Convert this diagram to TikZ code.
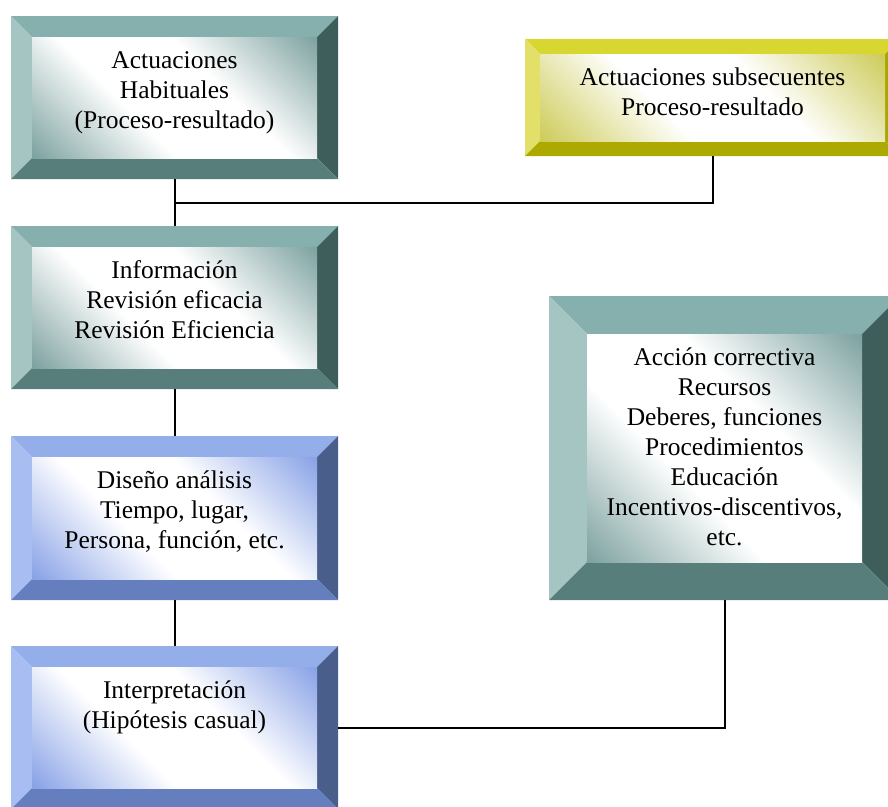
\documentclass[tikz,border=0pt]{standalone}
\usepackage{fontspec}
\setmainfont{Liberation Serif}
\usetikzlibrary{positioning}

\definecolor{tealT}{HTML}{86B0AD}
\definecolor{tealL}{HTML}{A5C5C2}
\definecolor{tealR}{HTML}{3E5E5C}
\definecolor{tealB}{HTML}{587E7C}
\definecolor{tealC}{HTML}{6F9896}
\definecolor{blueT}{HTML}{94AEEA}
\definecolor{blueL}{HTML}{A8BDF2}
\definecolor{blueR}{HTML}{4A5E8C}
\definecolor{blueB}{HTML}{657EBE}
\definecolor{blueC}{HTML}{7B98E4}
\definecolor{yelT}{HTML}{D8D630}
\definecolor{yelL}{HTML}{E2E068}
\definecolor{yelR}{HTML}{A8A600}
\definecolor{yelB}{HTML}{ACAA00}
\definecolor{yelC}{HTML}{C8C648}

% white centre, coloured towards two corners
\newcommand{\bevelshade}[1]{%
  \pgfdeclarehorizontalshading{#1shade}{100bp}{color(0bp)=(#1C); color(12bp)=(#1C);
    color(40bp)=(white); color(60bp)=(white); color(88bp)=(#1C); color(100bp)=(#1C)}}
\bevelshade{teal}
\bevelshade{blue}
\bevelshade{yel}

\tikzset{
  frame/.style={inner sep=0pt, outer sep=0pt},
  boxtext/.style={align=center, inner sep=0pt, font=\fontsize{25.5}{30}\selectfont},
  link/.style={line width=2pt}
}

% name, x1, y1, x2, y2, bevel, palette, text
\newcommand{\bevelbox}[8]{%
  \fill[#7T] (#2,#3) -- (#4,#3) -- (#4-#6,#3+#6) -- (#2+#6,#3+#6) -- cycle;
  \fill[#7L] (#2,#3) -- (#2+#6,#3+#6) -- (#2+#6,#5-#6) -- (#2,#5) -- cycle;
  \fill[#7R] (#4,#3) -- (#4,#5) -- (#4-#6,#5-#6) -- (#4-#6,#3+#6) -- cycle;
  \fill[#7B] (#2,#5) -- (#2+#6,#5-#6) -- (#4-#6,#5-#6) -- (#4,#5) -- cycle;
  \shade[shading=#7shade, shading angle=45]
    (#2+#6,#3+#6) rectangle (#4-#6,#5-#6);
  \node[frame, minimum width={(#4-#2)*1pt}, minimum height={(#5-#3)*1pt}]
    (#1) at ({(#2+#4)/2},{(#3+#5)/2}) {};
  \node[boxtext, anchor=north] (#1t) at ({(#2+#4)/2},#3+#6+10) {\strut #8};
}

\begin{document}
\begin{tikzpicture}[x=1pt, y=-1pt]
  \useasboundingbox (0,0) rectangle (888,806);
  \clip (0,0) rectangle (888,806);

  \bevelbox{habit}{11}{16}{338}{179}{21}{teal}{Actuaciones\\Habituales\\(Proceso-resultado)}
  \bevelbox{subs}{525}{39}{900}{156}{15}{yel}{Actuaciones subsecuentes\\Proceso-resultado}
  \bevelbox{info}{11}{226}{338}{389}{21}{teal}{Información\\Revisión eficacia\\Revisión Eficiencia}
  \bevelbox{accion}{549}{296}{900}{600}{38}{teal}{Acción correctiva\\Recursos\\Deberes, funciones\\Procedimientos\\Educación\\Incentivos-discentivos,\\etc.}
  \bevelbox{diseno}{11}{436}{338}{600}{21}{blue}{Diseño análisis\\Tiempo, lugar,\\Persona, función, etc.}
  \bevelbox{interp}{11}{646}{338}{809}{21}{blue}{Interpretación\\(Hipótesis casual)}

  % connectors
  \coordinate (junc) at (habit.south |- 0,203);
  \draw[link] (habit.south) -- (info.north);
  \draw[link] (subs.south) |- (junc);
  \draw[link] (info.south) -- (diseno.north);
  \draw[link] (diseno.south) -- (interp.north);
  \draw[link] (interp.east) -| (accion.south);
\end{tikzpicture}
\end{document}
